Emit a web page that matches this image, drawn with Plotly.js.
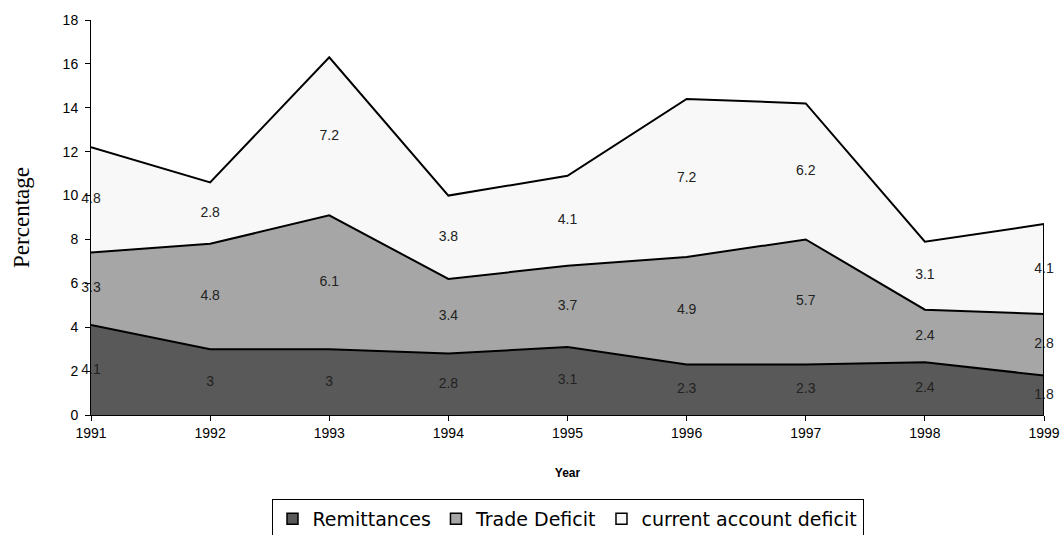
<!DOCTYPE html>
<html>
<head>
<meta charset="utf-8">
<script src="https://cdn.plot.ly/plotly-3.0.1.min.js"></script>
<style>
  body { margin: 0; background: #fff; }
  #chart { width: 1060px; height: 535px; }
</style>
</head>
<body>
<div id="chart"></div>
<script>
var years = [1991, 1992, 1993, 1994, 1995, 1996, 1997, 1998, 1999];
var remittances = [4.1, 3, 3, 2.8, 3.1, 2.3, 2.3, 2.4, 1.8];
var tradeDeficit = [3.3, 4.8, 6.1, 3.4, 3.7, 4.9, 5.7, 2.4, 2.8];
var currentDeficit = [4.8, 2.8, 7.2, 3.8, 4.1, 7.2, 6.2, 3.1, 4.1];

var seriesNames = ['Remittances', 'Trade Deficit', 'current account deficit'];
var seriesValues = [remittances, tradeDeficit, currentDeficit];
var fills = ['#595959', '#a6a6a6', '#f8f8f8'];

var data = [];
var base = years.map(function () { return 0; });

seriesValues.forEach(function (vals, i) {
  data.push({
    x: years,
    y: vals,
    type: 'scatter',
    mode: 'lines',
    stackgroup: 'one',
    fillcolor: fills[i],
    line: {color: '#000', width: 2},
    showlegend: false,
    hoverinfo: 'skip'
  });
});

// value labels in the middle of each band
seriesValues.forEach(function (vals, i) {
  data.push({
    x: years,
    y: vals.map(function (v, j) { return base[j] + v / 2; }),
    text: vals.map(String),
    type: 'scatter',
    mode: 'text',
    cliponaxis: false,
    textposition: 'middle center',
    textfont: {family: 'Arial, Liberation Sans, sans-serif', size: 14, color: '#222'},
    showlegend: false,
    hoverinfo: 'skip'
  });
  base = base.map(function (b, j) { return b + vals[j]; });
});

// closing edge on the right like the original
var last = years.length - 1;
data.push({
  x: [years[last], years[last]],
  y: [0, base[last]],
  type: 'scatter',
  mode: 'lines',
  line: {color: '#000', width: 2},
  showlegend: false,
  hoverinfo: 'skip'
});

// legend swatches
seriesNames.forEach(function (n, i) {
  data.push({
    x: [null],
    y: [null],
    name: n,
    type: 'scatter',
    mode: 'markers',
    marker: {symbol: 'square', size: 11, color: fills[i], line: {color: '#000', width: 1.5}}
  });
});

var layout = {
  width: 1060,
  height: 535,
  margin: {l: 91, r: 16, t: 20, b: 120},
  paper_bgcolor: '#fff',
  plot_bgcolor: '#fff',
  font: {family: 'Arial, Liberation Sans, sans-serif', size: 14, color: '#000'},
  xaxis: {
    range: [1991, 1999],
    tickvals: years,
    ticks: 'outside',
    ticklen: 5,
    tickcolor: '#000',
    showline: true,
    linecolor: '#000',
    linewidth: 1,
    showgrid: false,
    zeroline: false,
    title: {text: '<b>Year</b>', font: {size: 12}, standoff: 28}
  },
  yaxis: {
    range: [0, 18],
    dtick: 2,
    ticks: 'outside',
    ticklen: 5,
    tickcolor: '#000',
    ticklabelstandoff: 4,
    showline: true,
    linecolor: '#000',
    linewidth: 1,
    showgrid: false,
    zeroline: false,
    title: {text: 'Percentage', font: {family: 'Liberation Serif, Times New Roman, serif', size: 23}, standoff: 26}
  },
  legend: {
    orientation: 'h',
    traceorder: 'normal',
    x: 0.5,
    xanchor: 'center',
    yref: 'container',
    y: 0.03,
    yanchor: 'middle',
    bordercolor: '#000',
    borderwidth: 1,
    font: {family: 'DejaVu Sans, sans-serif', size: 19},
    itemwidth: 30,
    tracegroupgap: 0
  }
};

Plotly.newPlot('chart', data, layout, {displayModeBar: false, staticPlot: true});
</script>
</body>
</html>
